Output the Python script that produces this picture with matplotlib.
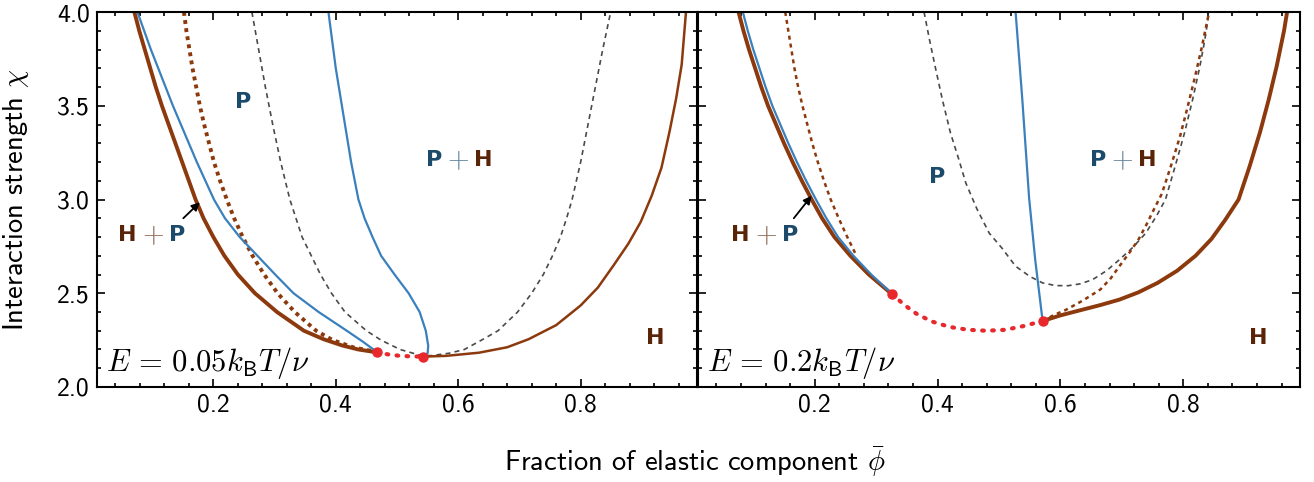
import matplotlib
matplotlib.use("Agg")
import matplotlib.pyplot as plt
from matplotlib.ticker import MultipleLocator

plt.rcParams['font.family'] = 'cmss10'
plt.rcParams['mathtext.fontset'] = 'cm'
plt.rcParams['axes.formatter.use_mathtext'] = True
plt.rcParams['axes.unicode_minus'] = False

BLUE = '#3a80bd'
BROWN = '#8c3a0d'
RED = '#e8282c'
GREY = '#4a4a4a'
P_COL = '#1c4a6b'
H_COL = '#5a2408'

# ---- E = 0.05 panel ----
a_binL_x = [0.071, 0.079, 0.088, 0.097, 0.106, 0.116, 0.127, 0.138, 0.149, 0.160, 0.171,
            0.184, 0.200, 0.218, 0.240, 0.268, 0.304, 0.348, 0.380, 0.410, 0.437, 0.467]
a_binL_y = [4.0, 3.9, 3.8, 3.7, 3.6, 3.5, 3.4, 3.3, 3.2, 3.1, 3.0,
            2.9, 2.8, 2.7, 2.6, 2.5, 2.4, 2.3, 2.255, 2.222, 2.200, 2.185]
a_binR_x = [0.542, 0.580, 0.634, 0.680, 0.715, 0.760, 0.800, 0.828, 0.854, 0.878,
            0.898, 0.916, 0.932, 0.945, 0.956, 0.965, 0.972]
a_binR_y = [2.162, 2.166, 2.183, 2.212, 2.255, 2.330, 2.435, 2.530, 2.650, 2.765,
            2.880, 3.020, 3.170, 3.360, 3.540, 3.720, 4.0]
a_metaL_x = [0.152, 0.156, 0.161, 0.166, 0.172, 0.178, 0.185, 0.193, 0.201, 0.211, 0.222,
             0.234, 0.248, 0.264, 0.283, 0.305, 0.333, 0.368, 0.395, 0.430, 0.467]
a_metaL_y = [4.0, 3.9, 3.8, 3.7, 3.6, 3.5, 3.4, 3.3, 3.2, 3.1, 3.0,
             2.9, 2.8, 2.7, 2.6, 2.5, 2.4, 2.3, 2.25, 2.21, 2.187]
a_blueL_x = [0.076, 0.087, 0.098, 0.110, 0.122, 0.134, 0.147, 0.160, 0.173, 0.187, 0.201,
             0.219, 0.243, 0.272, 0.301, 0.331, 0.372, 0.418, 0.445, 0.467]
a_blueL_y = [4.0, 3.9, 3.8, 3.7, 3.6, 3.5, 3.4, 3.3, 3.2, 3.1, 3.0,
             2.9, 2.8, 2.7, 2.6, 2.5, 2.4, 2.3, 2.24, 2.187]
a_blueR_x = [0.388, 0.392, 0.396, 0.400, 0.405, 0.410, 0.415, 0.420, 0.425, 0.431, 0.437,
             0.447, 0.460, 0.474, 0.496, 0.519, 0.537, 0.547, 0.551, 0.550, 0.542]
a_blueR_y = [4.0, 3.9, 3.8, 3.7, 3.6, 3.5, 3.4, 3.3, 3.2, 3.1, 3.0,
             2.9, 2.8, 2.7, 2.6, 2.5, 2.4, 2.3, 2.22, 2.18, 2.162]
a_spin_x = [0.263, 0.274, 0.285, 0.297, 0.310, 0.325, 0.345, 0.375, 0.393, 0.415, 0.450,
            0.474, 0.505, 0.535, 0.555, 0.585, 0.610, 0.638, 0.665, 0.697, 0.720, 0.739,
            0.754, 0.767, 0.777, 0.786, 0.800, 0.812, 0.824, 0.836, 0.849]
a_spin_y = [4.0, 3.8, 3.6, 3.4, 3.2, 3.0, 2.8, 2.6, 2.5, 2.4, 2.3,
            2.25, 2.2, 2.172, 2.167, 2.18, 2.2, 2.25, 2.3, 2.4, 2.5, 2.6,
            2.7, 2.8, 2.9, 3.0, 3.2, 3.4, 3.6, 3.8, 4.0]
a_unst_x = [0.467, 0.485, 0.505, 0.525, 0.542]
a_unst_y = [2.185, 2.174, 2.166, 2.163, 2.162]
a_crit_x = [0.467, 0.542]
a_crit_y = [2.185, 2.162]

# ---- E = 0.2 panel ----
b_binL_x = [0.076, 0.084, 0.093, 0.103, 0.113, 0.124, 0.137, 0.150, 0.164, 0.179, 0.195,
            0.212, 0.232, 0.258, 0.288, 0.324, 0.326]
b_binL_y = [4.0, 3.9, 3.8, 3.7, 3.6, 3.5, 3.4, 3.3, 3.2, 3.1, 3.0,
            2.9, 2.8, 2.7, 2.6, 2.5, 2.496]
b_binR_x = [0.571, 0.600, 0.633, 0.665, 0.696, 0.727, 0.758, 0.790, 0.820, 0.846, 0.868,
            0.890, 0.908, 0.925, 0.939, 0.952, 0.964, 0.969]
b_binR_y = [2.352, 2.382, 2.410, 2.437, 2.466, 2.505, 2.555, 2.620, 2.700, 2.790, 2.890,
            3.000, 3.177, 3.360, 3.532, 3.710, 3.900, 4.0]
b_metaL_x = [0.152, 0.157, 0.162, 0.167, 0.173, 0.180, 0.188, 0.196, 0.205, 0.215, 0.226,
             0.239, 0.253, 0.268]
b_metaL_y = [4.0, 3.9, 3.8, 3.7, 3.6, 3.5, 3.4, 3.3, 3.2, 3.1, 3.0,
             2.9, 2.8, 2.7]
b_metaR_x = [0.571, 0.590, 0.608, 0.637, 0.665, 0.682, 0.696, 0.712, 0.727, 0.740, 0.752,
             0.765, 0.780, 0.795, 0.806, 0.818, 0.830, 0.842]
b_metaR_y = [2.352, 2.385, 2.410, 2.462, 2.520, 2.580, 2.644, 2.715, 2.786, 2.866, 2.946,
             3.030, 3.180, 3.340, 3.480, 3.640, 3.810, 4.0]
b_blueL_x = [0.083, 0.091, 0.100, 0.110, 0.120, 0.131, 0.144, 0.157, 0.171, 0.186, 0.202,
             0.219, 0.238, 0.263, 0.292, 0.326]
b_blueL_y = [4.0, 3.9, 3.8, 3.7, 3.6, 3.5, 3.4, 3.3, 3.2, 3.1, 3.0,
             2.9, 2.8, 2.7, 2.6, 2.496]
b_blueR_x = [0.527, 0.538, 0.549, 0.559, 0.571]
b_blueR_y = [4.0, 3.531, 3.008, 2.677, 2.352]
b_spin_x = [0.378, 0.387, 0.396, 0.408, 0.421, 0.434, 0.446, 0.464, 0.484, 0.505, 0.527,
            0.550, 0.571, 0.592, 0.612, 0.632, 0.652, 0.675, 0.696, 0.718, 0.739, 0.756,
            0.771, 0.787, 0.802, 0.815, 0.827, 0.835, 0.842]
b_spin_y = [4.0, 3.85, 3.71, 3.53, 3.355, 3.22, 3.088, 2.95, 2.821, 2.74, 2.644,
            2.59, 2.555, 2.541, 2.540, 2.550, 2.572, 2.620, 2.679, 2.745, 2.821, 2.910,
            3.000, 3.180, 3.355, 3.530, 3.710, 3.850, 4.0]
b_unst_x = [0.326, 0.345, 0.365, 0.390, 0.420, 0.450, 0.480, 0.510, 0.540, 0.571]
b_unst_y = [2.496, 2.440, 2.392, 2.350, 2.320, 2.305, 2.300, 2.305, 2.325, 2.352]
b_crit_x = [0.326, 0.571]
b_crit_y = [2.496, 2.352]

panels = [
    dict(binL=(a_binL_x, a_binL_y), binR=(a_binR_x, a_binR_y), metaL=(a_metaL_x, a_metaL_y),
         metaR=None, blueL=(a_blueL_x, a_blueL_y), blueR=(a_blueR_x, a_blueR_y),
         spin=(a_spin_x, a_spin_y), unst=(a_unst_x, a_unst_y), crit=(a_crit_x, a_crit_y),
         binR_lw=1.8, meta_lw=2.8, meta_ls=(0, (1, 1.1)),
         label=r'$E\,=\,0.05k_{\mathsf{B}}T/\nu$',
         P=(0.249, 3.52), PH=(0.600, 3.21), HP=(0.101, 2.81), H=(0.922, 2.26),
         arrow=((0.151, 2.90), (0.178, 2.985))),
    dict(binL=(b_binL_x, b_binL_y), binR=(b_binR_x, b_binR_y), metaL=(b_metaL_x, b_metaL_y),
         metaR=(b_metaR_x, b_metaR_y), blueL=(b_blueL_x, b_blueL_y), blueR=(b_blueR_x, b_blueR_y),
         spin=(b_spin_x, b_spin_y), unst=(b_unst_x, b_unst_y), crit=(b_crit_x, b_crit_y),
         binR_lw=2.8, meta_lw=1.8, meta_ls=(0, (1.6, 1.6)),
         label=r'$E\,=\,0.2k_{\mathsf{B}}T/\nu$',
         P=(0.399, 3.12), PH=(0.701, 3.21), HP=(0.120, 2.81), H=(0.922, 2.26),
         arrow=((0.166, 2.90), (0.195, 3.02))),
]


def two_tone(ax, x, y, first, second, c1, c2):
    kw = dict(fontsize=16, fontweight='bold', family='DejaVu Sans', va='center')
    ax.text(x, y, r'$+$', ha='center', color=c1, alpha=0.7, fontsize=20, va='center')
    ax.annotate(first, (x, y), xytext=(-11.5, 0), textcoords='offset points',
                ha='right', color=c1, **kw)
    ax.annotate(second, (x, y), xytext=(11.5, 0), textcoords='offset points',
                ha='left', color=c2, **kw)


fig = plt.figure(figsize=(13.14, 4.82), dpi=100)
ax1 = fig.add_axes([97 / 1314, 95 / 482, 600 / 1314, 375 / 482])
ax2 = fig.add_axes([698 / 1314, 95 / 482, 602 / 1314, 375 / 482], sharey=ax1)

for ax, p in zip([ax1, ax2], panels):
    ax.plot(*p['spin'], color=GREY, lw=1.2, ls=(0, (3, 2.5)))
    ax.plot(*p['metaL'], color=BROWN, lw=p['meta_lw'], ls=p['meta_ls'])
    if p['metaR'] is not None:
        ax.plot(*p['metaR'], color=BROWN, lw=p['meta_lw'], ls=p['meta_ls'])
    ax.plot(*p['binL'], color=BROWN, lw=2.8, solid_capstyle='round', solid_joinstyle='round')
    ax.plot(*p['binR'], color=BROWN, lw=p['binR_lw'], solid_capstyle='round',
            solid_joinstyle='round')
    ax.plot(*p['blueL'], color=BLUE, lw=1.6, solid_joinstyle='round')
    ax.plot(*p['blueR'], color=BLUE, lw=1.6, solid_joinstyle='round')
    ax.plot(*p['unst'], color=RED, lw=3, ls=(0, (0.4, 2.0)), dash_capstyle='round')
    ax.plot(*p['crit'], 'o', color=RED, ms=6.5, ls='none')

    ax.text(*p['P'], 'P', color=P_COL, fontsize=16, fontweight='bold',
            family='DejaVu Sans', ha='center', va='center')
    ax.text(*p['H'], 'H', color=H_COL, fontsize=16, fontweight='bold',
            family='DejaVu Sans', ha='center', va='center')
    two_tone(ax, *p['PH'], 'P', 'H', P_COL, H_COL)
    two_tone(ax, *p['HP'], 'H', 'P', H_COL, P_COL)
    ax.annotate('', xy=p['arrow'][1], xytext=p['arrow'][0],
                arrowprops=dict(arrowstyle='-|>', color='black', lw=1.3,
                                mutation_scale=12, shrinkA=0, shrinkB=0))
    ax.text(0.024, 2.13, p['label'], fontsize=22, ha='left', va='center')

    ax.set_xlim(0.01, 0.99)
    ax.set_ylim(2.0, 4.0)
    ax.xaxis.set_major_locator(MultipleLocator(0.2))
    ax.xaxis.set_minor_locator(MultipleLocator(0.04))
    ax.yaxis.set_major_locator(MultipleLocator(0.5))
    ax.yaxis.set_minor_locator(MultipleLocator(0.1))
    ax.tick_params(which='both', direction='in', top=True, right=True, labelsize=18.5,
                   width=1.2, pad=5)
    ax.tick_params(which='major', length=6)
    ax.tick_params(which='minor', length=3)
    for s in ax.spines.values():
        s.set_linewidth(1.5)
    ax.set_xticks([0.2, 0.4, 0.6, 0.8])
    ax.set_xticklabels(['0.2', '0.4', '0.6', '0.8'])

ax1.set_yticks([2.0, 2.5, 3.0, 3.5, 4.0])
ax1.set_yticklabels(['2.0', '2.5', '3.0', '3.5', '4.0'])
ax2.tick_params(labelleft=False)
ax1.set_ylabel(r'Interaction strength $\chi$', fontsize=20.5)
ax1.yaxis.set_label_coords(-0.11, 0.5)
fig.text(695 / 1314, 20 / 482, r'Fraction of elastic component $\bar{\phi}$',
         fontsize=20.5, ha='center', va='center')

fig.savefig('out.png', dpi=100)
